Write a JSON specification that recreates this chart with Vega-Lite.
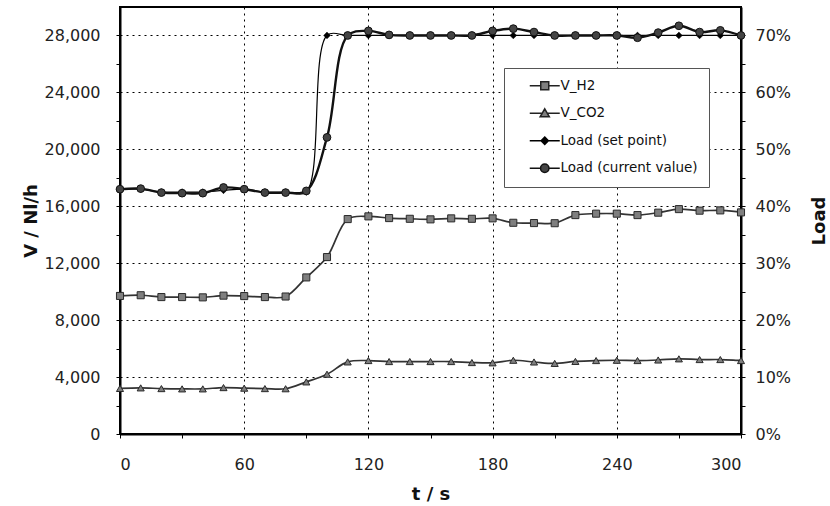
{
  "$schema": "https://vega.github.io/schema/vega-lite/v6.json",
  "width": 621,
  "height": 427,
  "autosize": {"type": "none"},
  "padding": {"left": 120, "top": 7, "right": 89, "bottom": 72},
  "background": "white",
  "config": {
    "view": {"stroke": "black", "strokeWidth": 2},
    "font": "DejaVu Sans",
    "axis": {
      "labelFont": "DejaVu Sans", "labelFontSize": 16, "labelColor": "#222",
      "titleFont": "DejaVu Sans", "titleFontSize": 18, "titleFontWeight": "bold", "titleColor": "#111",
      "domainColor": "black", "domainWidth": 2, "tickColor": "black", "tickSize": 4, "tickWidth": 1,
      "gridColor": "black", "gridDash": [2, 4], "gridWidth": 1
    },
    "legend": {
      "orient": "none", "legendX": 384, "legendY": 61, "direction": "vertical",
      "fillColor": "white", "strokeColor": "#555", "padding": 11,
      "labelFont": "DejaVu Sans", "labelFontSize": 13.5, "labelColor": "#111",
      "symbolSize": 64, "symbolStrokeWidth": 1.5, "symbolOpacity": 1,
      "symbolOffset": 23, "labelOffset": 9, "rowPadding": 12.5
    }
  },
  "datasets": {
    "d": [
      {"t": 0, "series": "V_H2", "v": 9700}, {"t": 10, "series": "V_H2", "v": 9750}, {"t": 20, "series": "V_H2", "v": 9620},
      {"t": 30, "series": "V_H2", "v": 9620}, {"t": 40, "series": "V_H2", "v": 9600}, {"t": 50, "series": "V_H2", "v": 9720},
      {"t": 60, "series": "V_H2", "v": 9690}, {"t": 70, "series": "V_H2", "v": 9620}, {"t": 80, "series": "V_H2", "v": 9660},
      {"t": 90, "series": "V_H2", "v": 11000}, {"t": 100, "series": "V_H2", "v": 12430}, {"t": 110, "series": "V_H2", "v": 15100},
      {"t": 120, "series": "V_H2", "v": 15290}, {"t": 130, "series": "V_H2", "v": 15170}, {"t": 140, "series": "V_H2", "v": 15120},
      {"t": 150, "series": "V_H2", "v": 15080}, {"t": 160, "series": "V_H2", "v": 15150}, {"t": 170, "series": "V_H2", "v": 15120},
      {"t": 180, "series": "V_H2", "v": 15150}, {"t": 190, "series": "V_H2", "v": 14840}, {"t": 200, "series": "V_H2", "v": 14820},
      {"t": 210, "series": "V_H2", "v": 14810}, {"t": 220, "series": "V_H2", "v": 15380}, {"t": 230, "series": "V_H2", "v": 15480},
      {"t": 240, "series": "V_H2", "v": 15480}, {"t": 250, "series": "V_H2", "v": 15380}, {"t": 260, "series": "V_H2", "v": 15550},
      {"t": 270, "series": "V_H2", "v": 15800}, {"t": 280, "series": "V_H2", "v": 15690}, {"t": 290, "series": "V_H2", "v": 15710},
      {"t": 300, "series": "V_H2", "v": 15570},
      {"t": 0, "series": "V_CO2", "v": 3200}, {"t": 10, "series": "V_CO2", "v": 3240}, {"t": 20, "series": "V_CO2", "v": 3190},
      {"t": 30, "series": "V_CO2", "v": 3170}, {"t": 40, "series": "V_CO2", "v": 3170}, {"t": 50, "series": "V_CO2", "v": 3260},
      {"t": 60, "series": "V_CO2", "v": 3220}, {"t": 70, "series": "V_CO2", "v": 3190}, {"t": 80, "series": "V_CO2", "v": 3180},
      {"t": 90, "series": "V_CO2", "v": 3660}, {"t": 100, "series": "V_CO2", "v": 4200}, {"t": 110, "series": "V_CO2", "v": 5065},
      {"t": 120, "series": "V_CO2", "v": 5160}, {"t": 130, "series": "V_CO2", "v": 5090}, {"t": 140, "series": "V_CO2", "v": 5090},
      {"t": 150, "series": "V_CO2", "v": 5090}, {"t": 160, "series": "V_CO2", "v": 5090}, {"t": 170, "series": "V_CO2", "v": 5020},
      {"t": 180, "series": "V_CO2", "v": 5000}, {"t": 190, "series": "V_CO2", "v": 5180}, {"t": 200, "series": "V_CO2", "v": 5060},
      {"t": 210, "series": "V_CO2", "v": 4960}, {"t": 220, "series": "V_CO2", "v": 5100}, {"t": 230, "series": "V_CO2", "v": 5160},
      {"t": 240, "series": "V_CO2", "v": 5180}, {"t": 250, "series": "V_CO2", "v": 5160}, {"t": 260, "series": "V_CO2", "v": 5200},
      {"t": 270, "series": "V_CO2", "v": 5280}, {"t": 280, "series": "V_CO2", "v": 5230}, {"t": 290, "series": "V_CO2", "v": 5230},
      {"t": 300, "series": "V_CO2", "v": 5160}
    ],
    "load": [
      {"t": 0, "series": "Load (set point)", "v": 0.43}, {"t": 10, "series": "Load (set point)", "v": 0.43}, {"t": 20, "series": "Load (set point)", "v": 0.425},
      {"t": 30, "series": "Load (set point)", "v": 0.425}, {"t": 40, "series": "Load (set point)", "v": 0.425}, {"t": 50, "series": "Load (set point)", "v": 0.428},
      {"t": 60, "series": "Load (set point)", "v": 0.43}, {"t": 70, "series": "Load (set point)", "v": 0.425}, {"t": 80, "series": "Load (set point)", "v": 0.425},
      {"t": 90, "series": "Load (set point)", "v": 0.425}, {"t": 100, "series": "Load (set point)", "v": 0.70}, {"t": 110, "series": "Load (set point)", "v": 0.70},
      {"t": 120, "series": "Load (set point)", "v": 0.70}, {"t": 130, "series": "Load (set point)", "v": 0.70}, {"t": 140, "series": "Load (set point)", "v": 0.70},
      {"t": 150, "series": "Load (set point)", "v": 0.70}, {"t": 160, "series": "Load (set point)", "v": 0.70}, {"t": 170, "series": "Load (set point)", "v": 0.70},
      {"t": 180, "series": "Load (set point)", "v": 0.70}, {"t": 190, "series": "Load (set point)", "v": 0.70}, {"t": 200, "series": "Load (set point)", "v": 0.70},
      {"t": 210, "series": "Load (set point)", "v": 0.70}, {"t": 220, "series": "Load (set point)", "v": 0.70}, {"t": 230, "series": "Load (set point)", "v": 0.70},
      {"t": 240, "series": "Load (set point)", "v": 0.70}, {"t": 250, "series": "Load (set point)", "v": 0.70}, {"t": 260, "series": "Load (set point)", "v": 0.70},
      {"t": 270, "series": "Load (set point)", "v": 0.70}, {"t": 280, "series": "Load (set point)", "v": 0.70}, {"t": 290, "series": "Load (set point)", "v": 0.70},
      {"t": 300, "series": "Load (set point)", "v": 0.70},
      {"t": 0, "series": "Load (current value)", "v": 0.430}, {"t": 10, "series": "Load (current value)", "v": 0.431}, {"t": 20, "series": "Load (current value)", "v": 0.424},
      {"t": 30, "series": "Load (current value)", "v": 0.423}, {"t": 40, "series": "Load (current value)", "v": 0.423}, {"t": 50, "series": "Load (current value)", "v": 0.433},
      {"t": 60, "series": "Load (current value)", "v": 0.430}, {"t": 70, "series": "Load (current value)", "v": 0.424}, {"t": 80, "series": "Load (current value)", "v": 0.424},
      {"t": 90, "series": "Load (current value)", "v": 0.427}, {"t": 100, "series": "Load (current value)", "v": 0.521}, {"t": 110, "series": "Load (current value)", "v": 0.700},
      {"t": 120, "series": "Load (current value)", "v": 0.708}, {"t": 130, "series": "Load (current value)", "v": 0.701}, {"t": 140, "series": "Load (current value)", "v": 0.700},
      {"t": 150, "series": "Load (current value)", "v": 0.700}, {"t": 160, "series": "Load (current value)", "v": 0.700}, {"t": 170, "series": "Load (current value)", "v": 0.700},
      {"t": 180, "series": "Load (current value)", "v": 0.708}, {"t": 190, "series": "Load (current value)", "v": 0.712}, {"t": 200, "series": "Load (current value)", "v": 0.706},
      {"t": 210, "series": "Load (current value)", "v": 0.700}, {"t": 220, "series": "Load (current value)", "v": 0.700}, {"t": 230, "series": "Load (current value)", "v": 0.700},
      {"t": 240, "series": "Load (current value)", "v": 0.700}, {"t": 250, "series": "Load (current value)", "v": 0.696}, {"t": 260, "series": "Load (current value)", "v": 0.705},
      {"t": 270, "series": "Load (current value)", "v": 0.717}, {"t": 280, "series": "Load (current value)", "v": 0.706}, {"t": 290, "series": "Load (current value)", "v": 0.709},
      {"t": 300, "series": "Load (current value)", "v": 0.700}
    ]
  },
  "layer": [
    {
      "data": {"name": "d"},
      "encoding": {
        "x": {
          "field": "t", "type": "quantitative",
          "scale": {"domain": [0, 300], "nice": false},
          "axis": {
            "title": "t / s", "values": [0, 30, 60, 90, 120, 150, 180, 210, 240, 270, 300],
            "format": "d", "labelExpr": "datum.value % 60 === 0 ? datum.label : ''",
            "grid": true,
            "gridOpacity": {"condition": {"test": "datum.value % 60 !== 0", "value": 0}, "value": 1},
            "labelPadding": 18, "titlePadding": 13
          }
        },
        "y": {
          "field": "v", "type": "quantitative",
          "scale": {"domain": [0, 30000], "nice": false},
          "axis": {
            "title": "V / Nl/h",
            "values": [0, 2000, 4000, 6000, 8000, 10000, 12000, 14000, 16000, 18000, 20000, 22000, 24000, 26000, 28000],
            "format": ",d", "labelExpr": "datum.value % 4000 === 0 ? datum.label : ''",
            "grid": true,
            "gridOpacity": {"condition": {"test": "datum.value % 4000 !== 0 || datum.value === 0", "value": 0}, "value": 1},
            "labelPadding": 16, "titlePadding": 4
          }
        }
      },
      "layer": [
        {
          "mark": {"type": "line", "interpolate": "catmull-rom", "color": "#333333", "strokeWidth": 1.7},
          "encoding": {"detail": {"field": "series"}}
        },
        {
          "transform": [{"filter": "datum.series === 'V_H2'"}],
          "mark": {"type": "point", "shape": "square", "filled": true, "fill": "#7f7f7f", "stroke": "#2a2a2a", "strokeWidth": 1, "size": 50, "opacity": 1}
        },
        {
          "transform": [{"filter": "datum.series === 'V_CO2'"}],
          "mark": {"type": "point", "shape": "triangle-up", "filled": true, "fill": "#7f7f7f", "stroke": "#2a2a2a", "strokeWidth": 1, "size": 50, "opacity": 1}
        },
        {
          "mark": {"type": "point", "filled": true, "opacity": 0},
          "encoding": {
            "shape": {
              "field": "series", "type": "nominal", "title": null,
              "scale": {
                "domain": ["V_H2", "V_CO2", "Load (set point)", "Load (current value)"],
                "range": [
                  "M-3.75,0H-1M1,0H3.75M-1,-1H1V1H-1Z",
                  "M-3.75,0H-0.6M0.6,0H3.75M0,-1.1L1.15,0.9H-1.15Z",
                  "M-3.75,0H-0.9M0.9,0H3.75M0,-0.9L0.9,0L0,0.9L-0.9,0Z",
                  "M-3.75,0H-1.05M1.05,0H3.75M1.05,0A1.05,1.05,0,1,1,-1.05,0A1.05,1.05,0,1,1,1.05,0Z"
                ]
              }
            },
            "fill": {
              "field": "series", "type": "nominal", "title": null,
              "scale": {
                "domain": ["V_H2", "V_CO2", "Load (set point)", "Load (current value)"],
                "range": ["#7f7f7f", "#7f7f7f", "#000000", "#444444"]
              }
            },
            "stroke": {
              "field": "series", "type": "nominal", "title": null,
              "scale": {
                "domain": ["V_H2", "V_CO2", "Load (set point)", "Load (current value)"],
                "range": ["#222222", "#222222", "#000000", "#111111"]
              }
            }
          }
        }
      ]
    },
    {
      "data": {"name": "load"},
      "encoding": {
        "x": {"field": "t", "type": "quantitative", "scale": {"domain": [0, 300], "nice": false}},
        "y": {
          "field": "v", "type": "quantitative",
          "scale": {"domain": [0, 0.75], "nice": false},
          "axis": {
            "orient": "right", "title": "Load", "titleAngle": -90, "titleBaseline": "top",
            "values": [0, 0.05, 0.1, 0.15, 0.2, 0.25, 0.3, 0.35, 0.4, 0.45, 0.5, 0.55, 0.6, 0.65, 0.7],
            "format": ".0%", "labelExpr": "round(datum.value * 100) % 10 === 0 ? datum.label : ''",
            "grid": false, "labelPadding": 10, "titlePadding": 20
          }
        }
      },
      "layer": [
        {
          "transform": [{"filter": "datum.series === 'Load (set point)'"}],
          "mark": {"type": "line", "interpolate": "catmull-rom", "color": "#000000", "strokeWidth": 1.2},
          "encoding": {}
        },
        {
          "transform": [{"filter": "datum.series === 'Load (current value)'"}],
          "mark": {"type": "line", "interpolate": "catmull-rom", "color": "#111111", "strokeWidth": 2.4},
          "encoding": {}
        },
        {
          "transform": [{"filter": "datum.series === 'Load (set point)'"}],
          "mark": {"type": "point", "shape": "diamond", "filled": true, "fill": "#000000", "stroke": "#000000", "strokeWidth": 0.5, "size": 45, "opacity": 1}
        },
        {
          "transform": [{"filter": "datum.series === 'Load (current value)'"}],
          "mark": {"type": "point", "shape": "circle", "filled": true, "fill": "#444444", "stroke": "#111111", "strokeWidth": 1, "size": 60, "opacity": 1}
        }
      ]
    }
  ],
  "resolve": {"scale": {"y": "independent"}}
}
